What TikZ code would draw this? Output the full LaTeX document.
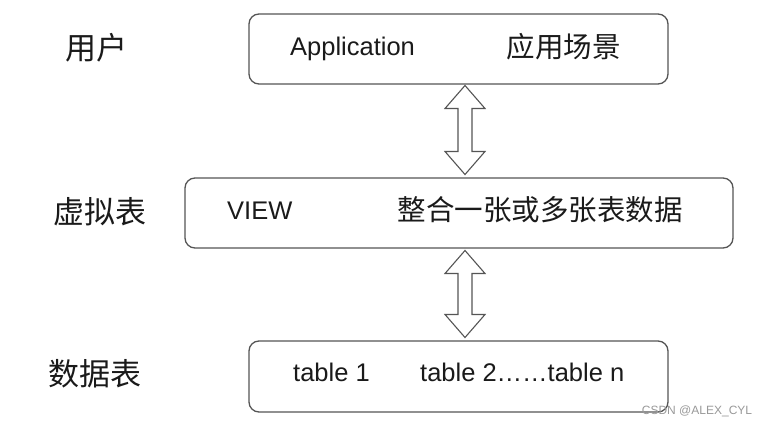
\documentclass[tikz,border=0pt]{standalone}
\usepackage{fontspec}
\setmainfont{Liberation Sans}
\newfontfamily\cjk{Noto Sans CJK SC}
\usetikzlibrary{calc}
\definecolor{edge}{HTML}{555555}
\definecolor{ink}{HTML}{1A1A1A}
\tikzset{
  box/.style={draw=edge, line width=1.3pt, rounded corners=10pt, inner sep=0pt},
  lat/.style={anchor=base west, inner sep=0pt, text=ink, font=\fontsize{25.5}{25.5}\selectfont},
  zh/.style={anchor=center, inner sep=0pt, text=ink, font=\cjk\fontsize{28.5}{28.5}\selectfont},
  side/.style={anchor=center, inner sep=0pt, text=ink, font=\cjk\fontsize{31}{31}\selectfont},
  dblarrow/.style={draw=edge, line width=1.1pt, fill=white, line join=miter},
  wmark/.style={anchor=center, inner sep=0pt, text=black!40, font=\fontsize{12}{12}\selectfont}
}
\newcommand{\hollowarrow}[2]{%
  \draw[dblarrow] (#1) -- ($(#1)+(20,23)$) -- ($(#1)+(7,23)$) -- ($(#2)+(7,-23)$)
    -- ($(#2)+(20,-23)$) -- (#2) -- ($(#2)+(-20,-23)$) -- ($(#2)+(-7,-23)$)
    -- ($(#1)+(-7,23)$) -- ($(#1)+(-20,23)$) -- cycle;}
\begin{document}
\begin{tikzpicture}[x=1pt, y=-1pt]
\fill[white] (0,0) rectangle (769,427);
\useasboundingbox (0,0) rectangle (769,427);

% boxes
\node[box, minimum width=419pt, minimum height=70pt] (app) at (458.5,49) {};
\node[box, minimum width=548pt, minimum height=70pt] (view) at (459,213) {};
\node[box, minimum width=419pt, minimum height=71pt] (tbl) at (458.5,376.5) {};

% side labels
\node[side] (l1) at (96,47.5) {用户};
\node[side] (l2) at (100,212) {虚拟表};
\node[side] (l3) at (95,374) {数据表};

% box texts
\node[lat] (t1) at (290,55.7) {Application};
\node[zh] (t2) at (563.5,46.5) {应用场景};
\node[lat] (t3) at (227,220) {VIEW};
\node[zh] (t4) at (540,209.5) {整合一张或多张表数据};
\node[lat] (t5) at (293,382) {table 1};
\node[lat] (t6) at (420,382) {table 2……table n};

% arrows
\coordinate (a1) at (465,85.5);
\coordinate (a2) at (465,174.5);
\coordinate (b1) at (465,250.5);
\coordinate (b2) at (465,337.5);
\hollowarrow{a1}{a2}
\hollowarrow{b1}{b2}

% watermark
\node[wmark] (wm) at (697,411) {CSDN @ALEX\_CYL};
\end{tikzpicture}
\end{document}
